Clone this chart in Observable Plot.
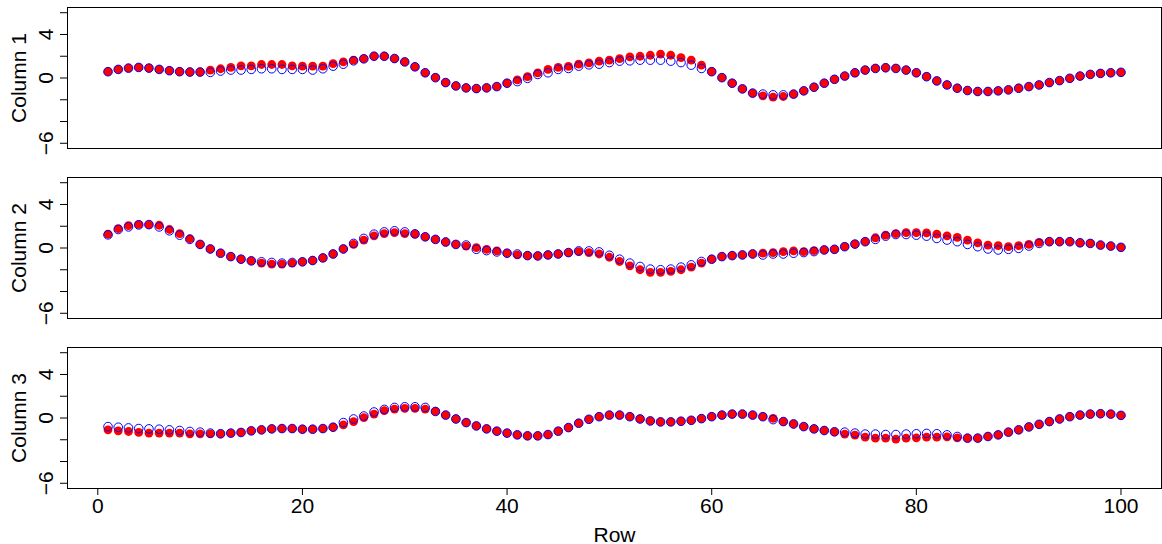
<!DOCTYPE html>
<html>
<head>
<meta charset="utf-8">
<script src="https://cdn.jsdelivr.net/npm/d3@7"></script>
<script src="https://cdn.jsdelivr.net/npm/@observablehq/plot@0.6"></script>
<style>
  html, body { margin: 0; padding: 0; background: #ffffff; }
  #chart { width: 1162px; height: 544px; }
</style>
</head>
<body>
<div id="chart"></div>
<script>
const columns = ["Column 1", "Column 2", "Column 3"];
const rows = d3.range(1, 101);
const xTicks = [0, 20, 40, 60, 80, 100];
const yTicks = [-6, -4, -2, 0, 2, 4, 6];
const yTickLabels = [-6, 0, 4];

const col1Red = [0.58,0.79,0.91,0.97,0.91,0.79,0.67,0.58,0.55,0.55,
  0.73,0.85,0.97,1.12,1.12,1.24,1.24,1.24,1.12,1.09,
  1.09,1.09,1.33,1.48,1.64,1.79,2.00,2.00,1.79,1.48,
  1.03,0.48,0.03,-0.42,-0.73,-0.91,-0.97,-0.91,-0.79,-0.48,
  -0.18,0.12,0.48,0.79,0.97,1.06,1.27,1.39,1.55,1.64,
  1.79,1.94,2.00,2.09,2.20,2.09,1.88,1.64,1.18,0.58,
  0.03,-0.48,-1.00,-1.39,-1.64,-1.76,-1.70,-1.48,-1.18,-0.85,
  -0.48,-0.12,0.18,0.48,0.73,0.88,0.94,0.88,0.73,0.48,
  0.12,-0.27,-0.64,-0.94,-1.15,-1.24,-1.24,-1.18,-1.09,-0.94,
  -0.79,-0.64,-0.42,-0.24,-0.03,0.18,0.33,0.42,0.48,0.52];
const col1Blue = [0.58,0.79,0.91,0.97,0.91,0.79,0.67,0.58,0.55,0.55,
  0.52,0.64,0.73,0.73,0.79,0.85,0.85,0.79,0.79,0.79,
  0.73,0.85,1.09,1.27,1.58,1.76,2.00,2.00,1.79,1.48,
  1.03,0.48,0.03,-0.42,-0.73,-0.91,-0.97,-0.91,-0.79,-0.48,
  -0.33,-0.03,0.33,0.48,0.79,0.88,1.09,1.21,1.27,1.42,
  1.55,1.58,1.64,1.64,1.64,1.55,1.42,1.18,0.88,0.58,
  0.03,-0.48,-1.00,-1.39,-1.48,-1.55,-1.55,-1.48,-1.18,-0.85,
  -0.48,-0.12,0.18,0.48,0.73,0.88,0.94,0.88,0.73,0.48,
  0.12,-0.27,-0.64,-0.94,-1.15,-1.24,-1.24,-1.18,-1.09,-0.94,
  -0.79,-0.64,-0.42,-0.24,-0.03,0.18,0.33,0.42,0.48,0.52];
const col2Red = [1.27,1.79,2.06,2.18,2.15,2.09,1.70,1.33,0.85,0.33,
  -0.09,-0.48,-0.79,-1.03,-1.18,-1.39,-1.48,-1.48,-1.39,-1.27,
  -1.15,-0.91,-0.55,-0.09,0.33,0.73,1.12,1.33,1.42,1.33,
  1.27,1.03,0.79,0.55,0.33,0.18,0.03,-0.12,-0.27,-0.48,
  -0.64,-0.70,-0.73,-0.64,-0.55,-0.42,-0.33,-0.42,-0.55,-0.85,
  -1.24,-1.64,-2.00,-2.24,-2.24,-2.15,-2.00,-1.76,-1.39,-1.03,
  -0.79,-0.70,-0.64,-0.55,-0.48,-0.42,-0.33,-0.27,-0.33,-0.24,
  -0.18,-0.12,0.12,0.36,0.58,0.94,1.18,1.33,1.42,1.42,
  1.39,1.27,1.12,0.97,0.73,0.48,0.27,0.21,0.12,0.21,
  0.33,0.52,0.58,0.58,0.58,0.48,0.42,0.27,0.18,0.06];
const col2Blue = [1.21,1.70,1.94,2.12,2.15,1.94,1.58,1.18,0.79,0.33,
  -0.09,-0.48,-0.79,-1.03,-1.18,-1.27,-1.33,-1.39,-1.33,-1.27,
  -1.15,-0.91,-0.55,-0.09,0.42,0.88,1.27,1.48,1.58,1.48,
  1.30,1.03,0.79,0.55,0.33,0.27,-0.12,-0.24,-0.36,-0.48,
  -0.55,-0.70,-0.73,-0.64,-0.55,-0.42,-0.27,-0.27,-0.36,-0.67,
  -1.03,-1.39,-1.70,-1.94,-2.00,-1.94,-1.76,-1.55,-1.24,-1.03,
  -0.79,-0.70,-0.64,-0.55,-0.64,-0.55,-0.55,-0.48,-0.42,-0.33,
  -0.18,-0.12,0.12,0.36,0.58,0.79,1.09,1.24,1.24,1.18,
  1.09,0.88,0.73,0.58,0.33,0.12,-0.09,-0.18,-0.12,-0.03,
  0.18,0.42,0.58,0.58,0.58,0.48,0.42,0.27,0.18,0.06];
const col3Red = [-1.09,-1.18,-1.24,-1.33,-1.39,-1.39,-1.39,-1.39,-1.45,-1.45,
  -1.45,-1.45,-1.39,-1.33,-1.18,-1.09,-1.00,-0.97,-0.97,-1.03,
  -1.03,-0.97,-0.85,-0.64,-0.33,0.03,0.36,0.67,0.82,0.88,
  0.88,0.82,0.60,0.27,-0.09,-0.42,-0.73,-1.00,-1.21,-1.39,
  -1.55,-1.64,-1.64,-1.52,-1.21,-0.88,-0.48,-0.12,0.12,0.27,
  0.27,0.12,-0.09,-0.27,-0.36,-0.36,-0.30,-0.21,-0.06,0.12,
  0.27,0.36,0.36,0.27,0.12,-0.03,-0.33,-0.55,-0.79,-1.00,
  -1.15,-1.27,-1.48,-1.58,-1.76,-1.85,-1.85,-1.94,-1.85,-1.82,
  -1.76,-1.76,-1.73,-1.82,-1.85,-1.85,-1.70,-1.55,-1.30,-1.09,
  -0.82,-0.58,-0.33,-0.09,0.12,0.27,0.36,0.39,0.36,0.24];
const col3Blue = [-0.79,-0.85,-0.91,-0.97,-1.00,-1.03,-1.09,-1.15,-1.24,-1.30,
  -1.39,-1.45,-1.39,-1.33,-1.18,-1.09,-1.00,-0.97,-0.97,-1.03,
  -1.03,-0.97,-0.85,-0.42,-0.09,0.18,0.55,0.79,0.97,1.03,
  1.03,0.97,0.60,0.27,-0.09,-0.42,-0.73,-1.00,-1.21,-1.39,
  -1.55,-1.64,-1.64,-1.52,-1.21,-0.88,-0.48,-0.12,0.12,0.27,
  0.27,0.12,-0.09,-0.27,-0.36,-0.36,-0.30,-0.21,-0.06,0.12,
  0.27,0.36,0.36,0.27,0.12,-0.15,-0.33,-0.55,-0.79,-1.00,
  -1.15,-1.27,-1.30,-1.39,-1.48,-1.48,-1.52,-1.52,-1.48,-1.45,
  -1.42,-1.45,-1.55,-1.70,-1.85,-1.85,-1.70,-1.55,-1.30,-1.09,
  -0.82,-0.58,-0.33,-0.09,0.12,0.27,0.36,0.39,0.36,0.24];

const redSeries = [col1Red, col2Red, col3Red];
const blueSeries = [col1Blue, col2Blue, col3Blue];

const table = [];
columns.forEach((c, k) => {
  rows.forEach((r, i) => {
    table.push({col: c, row: r, red: redSeries[k][i], blue: blueSeries[k][i]});
  });
});

const fmt = d => (d < 0 ? "\u2212" + Math.abs(d) : String(d));

const chart = Plot.plot({
  width: 1162,
  height: 544,
  marginLeft: 67,
  marginRight: 1,
  marginTop: 7,
  marginBottom: 56,
  style: {fontFamily: "'Liberation Sans', Arial, Helvetica, sans-serif", fontSize: "21px", color: "black", background: "white"},
  x: {domain: [-2.96, 103.96]},
  y: {domain: [-6.48, 6.48]},
  fy: {domain: columns, paddingInner: 29 / 170, paddingOuter: 0, axis: null, label: null},
  marks: [
    Plot.frame({stroke: "black", strokeWidth: 1}),
    Plot.axisX({ticks: xTicks, tickSize: 7, tickPadding: 3, label: "Row", labelAnchor: "center", labelArrow: false, labelOffset: 53}),
    Plot.axisY({ticks: yTicks, tickFormat: d => yTickLabels.includes(d) ? fmt(d) : "", tickRotate: -90, tickSize: 7, tickPadding: 8, label: null}),
    Plot.dot(table, {x: "row", y: "red", fy: "col", r: 4.4, fill: "#ff0000", stroke: "none"}),
    Plot.dot(table, {x: "row", y: "blue", fy: "col", r: 4.3, fill: "none", stroke: "#0000ff", strokeWidth: 1}),
    Plot.text(columns, {fy: d => d, text: d => d, frameAnchor: "left", textAnchor: "middle", lineAnchor: "middle", rotate: -90, dx: -48, fontSize: 21})
  ]
});
document.getElementById("chart").appendChild(chart);
</script>
</body>
</html>
